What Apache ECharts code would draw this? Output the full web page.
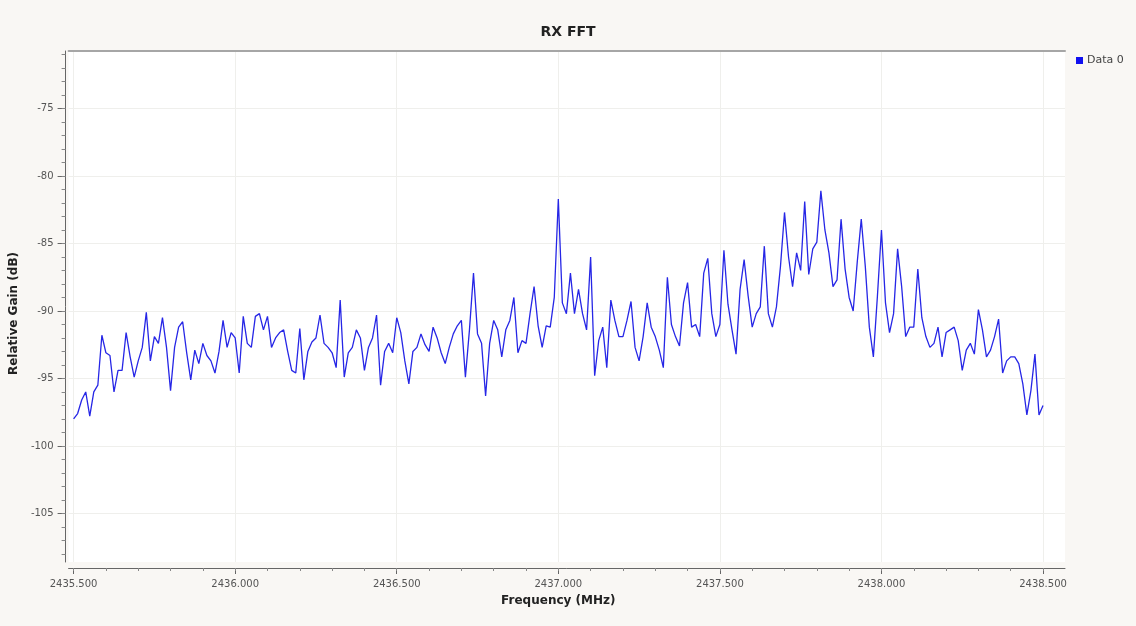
<!DOCTYPE html>
<html>
<head>
<meta charset="utf-8">
<title>RX FFT</title>
<script src="https://cdn.jsdelivr.net/npm/echarts@6/dist/echarts.min.js"></script>
<style>
  html, body { margin: 0; padding: 0; background: #f9f7f4; }
  #fft { width: 1136px; height: 626px; }
</style>
</head>
<body>
<div id="fft"></div>
<script>
// FFT bins: first bin frequency and spacing (MHz)
const freqStartMHz = 2435.5;
const binStepMHz = 0.0125;

// relative gain per bin (dB)
const gainDb = [
  -98.0, -97.6, -96.6, -96.0, -97.8, -96.0, -95.5, -91.8, -93.1, -93.3,
  -96.0, -94.4, -94.4, -91.6, -93.4, -94.9, -93.7, -92.7, -90.1, -93.7,
  -91.9, -92.4, -90.5, -92.7, -95.9, -92.7, -91.2, -90.8, -93.1, -95.1,
  -92.9, -93.9, -92.4, -93.3, -93.7, -94.6, -93.0, -90.7, -92.7, -91.6,
  -92.0, -94.6, -90.4, -92.4, -92.7, -90.4, -90.2, -91.4, -90.4, -92.7,
  -92.0, -91.6, -91.4, -93.0, -94.4, -94.6, -91.3, -95.1, -93.0, -92.3,
  -92.0, -90.3, -92.4, -92.7, -93.1, -94.2, -89.2, -94.9, -93.1, -92.7,
  -91.4, -92.0, -94.4, -92.7, -92.0, -90.3, -95.5, -93.0, -92.4, -93.1,
  -90.5, -91.6, -93.7, -95.4, -93.0, -92.7, -91.7, -92.5, -93.0, -91.2,
  -92.0, -93.1, -93.9, -92.7, -91.7, -91.1, -90.7, -94.9, -91.4, -87.2,
  -91.7, -92.4, -96.3, -92.4, -90.7, -91.4, -93.4, -91.4, -90.7, -89.0,
  -93.1, -92.2, -92.4, -90.2, -88.2, -91.1, -92.7, -91.1, -91.2, -89.0,
  -81.7, -89.4, -90.2, -87.2, -90.2, -88.4, -90.2, -91.4, -86.0, -94.8,
  -92.2, -91.2, -94.2, -89.2, -90.7, -91.9, -91.9, -90.7, -89.3, -92.7,
  -93.7, -91.9, -89.4, -91.2, -91.9, -92.9, -94.2, -87.5, -91.0, -91.9,
  -92.6, -89.4, -87.9, -91.2, -91.0, -91.9, -87.2, -86.1, -90.2, -91.9,
  -91.0, -85.5, -89.5, -91.4, -93.2, -88.4, -86.2, -88.9, -91.2, -90.2,
  -89.7, -85.2, -90.2, -91.2, -89.7, -86.7, -82.7, -86.0, -88.2, -85.7,
  -87.0, -81.9, -87.3, -85.4, -84.9, -81.1, -84.0, -85.7, -88.2, -87.7,
  -83.2, -86.9, -89.0, -90.0, -86.4, -83.2, -86.7, -91.2, -93.4, -88.9,
  -84.0, -89.4, -91.6, -90.2, -85.4, -88.2, -91.9, -91.2, -91.2, -86.9,
  -90.5, -91.9, -92.7, -92.4, -91.2, -93.4, -91.6, -91.4, -91.2, -92.2,
  -94.4, -92.9, -92.4, -93.2, -89.9, -91.4, -93.4, -92.9, -91.9, -90.6,
  -94.6, -93.7, -93.4, -93.4, -93.9, -95.4, -97.7, -95.9, -93.2, -97.7,
  -97.0
];

// axis ticks
const freqMajorTicks = [2435.5, 2436.0, 2436.5, 2437.0, 2437.5, 2438.0, 2438.5];
const freqMinorTicks = [
  2435.5, 2435.6, 2435.7, 2435.8, 2435.9, 2436.0, 2436.1, 2436.2, 2436.3, 2436.4,
  2436.5, 2436.6, 2436.7, 2436.8, 2436.9, 2437.0, 2437.1, 2437.2, 2437.3, 2437.4,
  2437.5, 2437.6, 2437.7, 2437.8, 2437.9, 2438.0, 2438.1, 2438.2, 2438.3, 2438.4, 2438.5
];
const gainMajorTicks = [-105, -100, -95, -90, -85, -80, -75];
const gainMinorTicks = [
  -108, -107, -106, -105, -104, -103, -102, -101, -100, -99, -98, -97, -96, -95,
  -94, -93, -92, -91, -90, -89, -88, -87, -86, -85, -84, -83, -82, -81, -80,
  -79, -78, -77, -76, -75, -74, -73, -72, -71
];

const xMin = 2435.4845, xMax = 2438.568;
const yMin = -108.6, yMax = -70.74;

const points = gainDb.map((g, i) => [freqStartMHz + i * binStepMHz, g]);

const labelStyle = { fontFamily: 'DejaVu Sans', fontSize: 10, color: '#555' };
const nameStyle = { fontFamily: 'DejaVu Sans', fontSize: 12, fontWeight: 'bold', color: '#222' };
const gridLine = { show: true, lineStyle: { color: '#efefec', width: 1 } };

const chart = echarts.init(document.getElementById('fft'), null, { renderer: 'canvas' });

chart.setOption({
  backgroundColor: '#f9f7f4',
  animation: false,
  title: {
    text: 'RX FFT',
    left: 'center',
    top: 25,
    padding: 0,
    textStyle: { fontFamily: 'DejaVu Sans', fontSize: 14, fontWeight: 'bold', color: '#222' },
  },
  legend: {
    data: ['Data 0'],
    left: 1076,
    top: 55,
    padding: 0,
    icon: 'rect',
    itemWidth: 7,
    itemHeight: 7,
    itemGap: 4,
    textStyle: { fontFamily: 'DejaVu Sans', fontSize: 11, color: '#444', padding: [0, 0, 0, -1] },
  },
  grid: {
    left: 68,
    right: 71,
    top: 51,
    bottom: 64,
    show: true,
    backgroundColor: '#ffffff',
    borderWidth: 0,
  },
  xAxis: [
    {
      type: 'value',
      position: 'bottom',
      min: xMin,
      max: xMax,
      splitNumber: 6,
      offset: 6,
      name: 'Frequency (MHz)',
      nameLocation: 'middle',
      nameGap: 27,
      nameTextStyle: Object.assign({ padding: [0, 17, 0, 0] }, nameStyle),
      axisLine: { lineStyle: { color: '#666', width: 1 } },
      axisTick: { customValues: freqMajorTicks, length: 6, lineStyle: { color: '#666' } },
      axisLabel: {
        customValues: freqMajorTicks,
        margin: 11,
        formatter: v => v.toFixed(3),
        ...labelStyle,
      },
      splitLine: gridLine,
    },
    {
      type: 'value',
      position: 'bottom',
      min: xMin,
      max: xMax,
      offset: 6,
      axisLine: { show: false },
      axisTick: { customValues: freqMinorTicks, length: 3, lineStyle: { color: '#888' } },
      axisLabel: { show: false },
      splitLine: { show: false },
    },
    {
      type: 'value',
      position: 'top',
      min: xMin,
      max: xMax,
      axisLine: { show: true, lineStyle: { color: '#a6a6a6', width: 2 } },
      axisTick: { show: false },
      axisLabel: { show: false },
      splitLine: { show: false },
    },
  ],
  yAxis: [
    {
      type: 'value',
      position: 'left',
      min: yMin,
      max: yMax,
      splitNumber: 8,
      offset: 3,
      name: 'Relative Gain (dB)',
      nameLocation: 'middle',
      nameGap: 38,
      nameTextStyle: Object.assign({ padding: [0, 14, 0, 0] }, nameStyle),
      axisLine: { show: true, lineStyle: { color: '#666', width: 1 } },
      axisTick: { show: true, customValues: gainMajorTicks, length: 8, lineStyle: { color: '#666' } },
      axisLabel: { customValues: gainMajorTicks, margin: 12, ...labelStyle },
      splitLine: gridLine,
    },
    {
      type: 'value',
      position: 'left',
      min: yMin,
      max: yMax,
      offset: 3,
      axisLine: { show: false },
      axisTick: { show: true, customValues: gainMinorTicks, length: 4, lineStyle: { color: '#888' } },
      axisLabel: { show: false },
      splitLine: { show: false },
    },
  ],
  series: [
    {
      name: 'Data 0',
      type: 'line',
      xAxisIndex: 0,
      yAxisIndex: 0,
      data: points,
      color: '#1010f0',
      showSymbol: false,
      symbol: 'none',
      lineStyle: { color: '#2626e6', width: 1.3 },
    },
  ],
});
</script>
</body>
</html>
